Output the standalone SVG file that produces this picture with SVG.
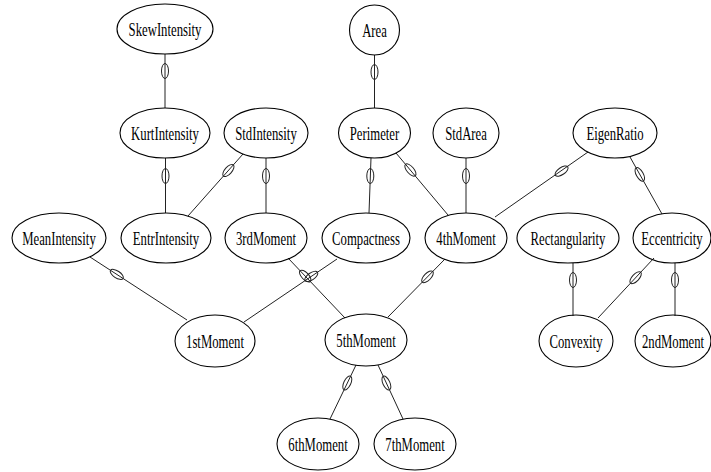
<svg xmlns="http://www.w3.org/2000/svg" width="711" height="472" viewBox="0 0 711 472">
<style>
.n ellipse{fill:none;stroke:#000;stroke-width:1.1}
.n text{font-family:"Liberation Serif","Times New Roman",serif;font-size:19px;fill:#000;text-anchor:middle}
#edges line{stroke:#222;stroke-width:1}
#edges ellipse{fill:none;stroke:#222;stroke-width:1}
</style>
<rect width="711" height="472" fill="#fff"/>
<g id="edges">
<line x1="165" y1="54" x2="165" y2="108"/><ellipse cx="165" cy="71" rx="3.5" ry="7.5"/>
<line x1="374.5" y1="55" x2="374.5" y2="108"/><ellipse cx="374.5" cy="72" rx="3.5" ry="7.5"/>
<line x1="165.5" y1="158" x2="165.5" y2="213"/><ellipse cx="165.5" cy="176" rx="3.5" ry="7.5"/>
<line x1="243" y1="154" x2="188" y2="216"/><ellipse cx="228.4" cy="170.5" rx="3.5" ry="7.5" transform="rotate(41.6 228.4 170.5)"/>
<line x1="266" y1="158" x2="266" y2="213"/><ellipse cx="266" cy="176" rx="3.5" ry="7.5"/>
<line x1="371" y1="158" x2="369" y2="213"/><ellipse cx="370.3" cy="176" rx="3.5" ry="7.5"/>
<line x1="396" y1="153" x2="448" y2="215"/><ellipse cx="410.4" cy="170" rx="3.5" ry="7.5" transform="rotate(-40.9 410.4 170)"/>
<line x1="466" y1="158" x2="466" y2="213"/><ellipse cx="466" cy="176" rx="3.5" ry="7.5"/>
<line x1="588" y1="152" x2="495" y2="217"/><ellipse cx="561.6" cy="171.1" rx="3.5" ry="7.5" transform="rotate(55.5 561.6 171.1)"/>
<line x1="630" y1="157" x2="662" y2="214"/><ellipse cx="639.8" cy="174.4" rx="3.5" ry="7.5" transform="rotate(-29.3 639.8 174.4)"/>
<line x1="90" y1="257" x2="187" y2="320"/><ellipse cx="116.8" cy="274.4" rx="3.5" ry="7.5" transform="rotate(-57 116.8 274.4)"/>
<line x1="288" y1="258" x2="345" y2="318"/><ellipse cx="305.2" cy="276.1" rx="3.5" ry="7.5" transform="rotate(-43.5 305.2 276.1)"/>
<line x1="337" y1="259" x2="244" y2="322"/><ellipse cx="311.3" cy="276.4" rx="3.5" ry="7.5" transform="rotate(55.9 311.3 276.4)"/>
<line x1="445" y1="259" x2="388" y2="317"/><ellipse cx="427.5" cy="276.8" rx="3.5" ry="7.5" transform="rotate(44.5 427.5 276.8)"/>
<line x1="356" y1="365" x2="330" y2="419"/><ellipse cx="347.3" cy="383" rx="3.5" ry="7.5" transform="rotate(25.7 347.3 383)"/>
<line x1="378" y1="365" x2="403" y2="419"/><ellipse cx="386.4" cy="383.1" rx="3.5" ry="7.5" transform="rotate(-24.8 386.4 383.1)"/>
<line x1="573" y1="263" x2="573" y2="316"/><ellipse cx="573" cy="280" rx="3.5" ry="7.5"/>
<line x1="654" y1="258" x2="598" y2="318"/><ellipse cx="635.6" cy="277.7" rx="3.5" ry="7.5" transform="rotate(43 635.6 277.7)"/>
<line x1="675" y1="263" x2="675" y2="316"/><ellipse cx="675" cy="280" rx="3.5" ry="7.5"/>
</g>
<g id="SkewIntensity" class="n"><ellipse cx="165" cy="29" rx="48" ry="25"/><text transform="translate(165 36) scale(0.67 1)">SkewIntensity</text></g>
<g id="Area" class="n"><ellipse cx="374.5" cy="30" rx="25" ry="25"/><text transform="translate(374.5 37) scale(0.67 1)">Area</text></g>
<g id="KurtIntensity" class="n"><ellipse cx="165" cy="133" rx="45" ry="25"/><text transform="translate(165 140) scale(0.67 1)">KurtIntensity</text></g>
<g id="StdIntensity" class="n"><ellipse cx="266" cy="133" rx="42" ry="25"/><text transform="translate(266 140) scale(0.67 1)">StdIntensity</text></g>
<g id="Perimeter" class="n"><ellipse cx="374.5" cy="133" rx="36" ry="25"/><text transform="translate(374.5 140) scale(0.67 1)">Perimeter</text></g>
<g id="StdArea" class="n"><ellipse cx="466" cy="133" rx="33" ry="25"/><text transform="translate(466 140) scale(0.67 1)">StdArea</text></g>
<g id="EigenRatio" class="n"><ellipse cx="615" cy="133" rx="42" ry="25"/><text transform="translate(615 140) scale(0.67 1)">EigenRatio</text></g>
<g id="MeanIntensity" class="n"><ellipse cx="59" cy="238" rx="47" ry="25"/><text transform="translate(59 245) scale(0.67 1)">MeanIntensity</text></g>
<g id="EntrIntensity" class="n"><ellipse cx="166" cy="238" rx="45" ry="25"/><text transform="translate(166 245) scale(0.67 1)">EntrIntensity</text></g>
<g id="3rdMoment" class="n"><ellipse cx="266" cy="238" rx="41" ry="25"/><text transform="translate(266 245) scale(0.67 1)">3rdMoment</text></g>
<g id="Compactness" class="n"><ellipse cx="366" cy="238" rx="44" ry="25"/><text transform="translate(366 245) scale(0.67 1)">Compactness</text></g>
<g id="4thMoment" class="n"><ellipse cx="466" cy="238" rx="41" ry="25"/><text transform="translate(466 245) scale(0.67 1)">4thMoment</text></g>
<g id="Rectangularity" class="n"><ellipse cx="568" cy="238" rx="51" ry="25"/><text transform="translate(568 245) scale(0.67 1)">Rectangularity</text></g>
<g id="Eccentricity" class="n"><ellipse cx="672" cy="238" rx="39" ry="25"/><text transform="translate(672 245) scale(0.67 1)">Eccentricity</text></g>
<g id="1stMoment" class="n"><ellipse cx="215" cy="341" rx="40" ry="26"/><text transform="translate(215 348) scale(0.67 1)">1stMoment</text></g>
<g id="5thMoment" class="n"><ellipse cx="366" cy="340" rx="41" ry="26"/><text transform="translate(366 347) scale(0.67 1)">5thMoment</text></g>
<g id="Convexity" class="n"><ellipse cx="576" cy="341" rx="37" ry="26"/><text transform="translate(576 348) scale(0.67 1)">Convexity</text></g>
<g id="2ndMoment" class="n"><ellipse cx="673" cy="341" rx="38" ry="26"/><text transform="translate(673 348) scale(0.67 1)">2ndMoment</text></g>
<g id="6thMoment" class="n"><ellipse cx="318" cy="444" rx="41" ry="26"/><text transform="translate(318 451) scale(0.67 1)">6thMoment</text></g>
<g id="7thMoment" class="n"><ellipse cx="415" cy="444" rx="41" ry="26"/><text transform="translate(415 451) scale(0.67 1)">7thMoment</text></g>
</svg>
